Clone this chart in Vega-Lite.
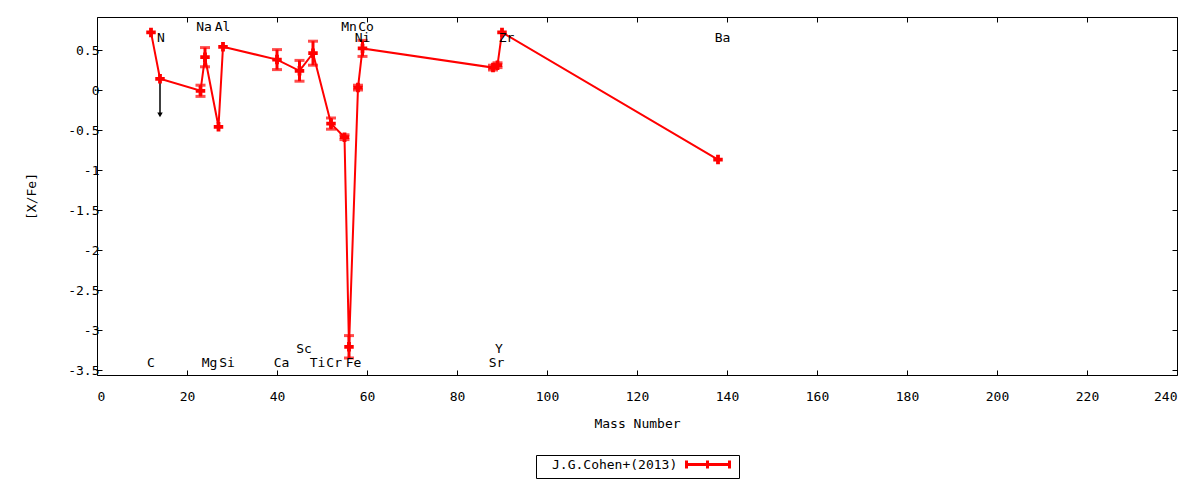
{
  "$schema": "https://vega.github.io/schema/vega-lite/v6.json",
  "width": 1080,
  "height": 358,
  "autosize": {"type": "none"},
  "padding": {"left": 97, "top": 17, "right": 23, "bottom": 105},
  "background": "white",
  "config": {
    "font": "DejaVu Sans Mono",
    "view": {"stroke": "black", "strokeWidth": 1},
    "axis": {
      "domain": false,
      "grid": false,
      "tickColor": "black",
      "tickSize": -5,
      "labelColor": "black",
      "labelFont": "DejaVu Sans Mono",
      "labelFontSize": 13,
      "titleFont": "DejaVu Sans Mono",
      "titleFontSize": 13,
      "titleFontWeight": "normal",
      "titleColor": "black"
    }
  },
  "datasets": {
    "abund": [
      {"element": "C", "A": 12, "xfe": 0.72, "err": 0, "ref": "J.G.Cohen+(2013)"},
      {"element": "N", "A": 14, "xfe": 0.14, "err": 0, "limit": -0.31, "ref": "J.G.Cohen+(2013)"},
      {"element": "Na", "A": 23, "xfe": -0.01, "err": 0.07, "ref": "J.G.Cohen+(2013)"},
      {"element": "Mg", "A": 24, "xfe": 0.41, "err": 0.12, "ref": "J.G.Cohen+(2013)"},
      {"element": "Al", "A": 27, "xfe": -0.46, "err": 0, "ref": "J.G.Cohen+(2013)"},
      {"element": "Si", "A": 28, "xfe": 0.54, "err": 0, "ref": "J.G.Cohen+(2013)"},
      {"element": "Ca", "A": 40, "xfe": 0.38, "err": 0.125, "ref": "J.G.Cohen+(2013)"},
      {"element": "Sc", "A": 45, "xfe": 0.24, "err": 0.13, "ref": "J.G.Cohen+(2013)"},
      {"element": "Ti", "A": 48, "xfe": 0.46, "err": 0.15, "ref": "J.G.Cohen+(2013)"},
      {"element": "Cr", "A": 52, "xfe": -0.42, "err": 0.07, "ref": "J.G.Cohen+(2013)"},
      {"element": "Mn", "A": 55, "xfe": -0.59, "err": 0.03, "ref": "J.G.Cohen+(2013)"},
      {"element": "Fe", "A": 56, "xfe": -3.21, "err": 0.14, "ref": "J.G.Cohen+(2013)"},
      {"element": "Ni", "A": 58, "xfe": 0.03, "err": 0.03, "ref": "J.G.Cohen+(2013)"},
      {"element": "Co", "A": 59, "xfe": 0.52, "err": 0.1, "ref": "J.G.Cohen+(2013)"},
      {"element": "Sr", "A": 88, "xfe": 0.28, "err": 0.03, "ref": "J.G.Cohen+(2013)"},
      {"element": "Y", "A": 89, "xfe": 0.31, "err": 0.03, "ref": "J.G.Cohen+(2013)"},
      {"element": "Zr", "A": 90, "xfe": 0.72, "err": 0, "ref": "J.G.Cohen+(2013)"},
      {"element": "Ba", "A": 138, "xfe": -0.87, "err": 0, "ref": "J.G.Cohen+(2013)"}
    ],
    "labels": [
      {"el": "C", "lx": 12.0, "ly": -3.41},
      {"el": "N", "lx": 14.2, "ly": 0.65},
      {"el": "Na", "lx": 23.8, "ly": 0.79},
      {"el": "Mg", "lx": 25.0, "ly": -3.41},
      {"el": "Al", "lx": 27.9, "ly": 0.79},
      {"el": "Si", "lx": 28.9, "ly": -3.41},
      {"el": "Ca", "lx": 41.0, "ly": -3.41},
      {"el": "Sc", "lx": 46.0, "ly": -3.24},
      {"el": "Ti", "lx": 49.0, "ly": -3.41},
      {"el": "Cr", "lx": 52.7, "ly": -3.41},
      {"el": "Mn", "lx": 56.0, "ly": 0.79},
      {"el": "Fe", "lx": 57.0, "ly": -3.41},
      {"el": "Co", "lx": 59.8, "ly": 0.79},
      {"el": "Ni", "lx": 59.0, "ly": 0.65},
      {"el": "Sr", "lx": 88.8, "ly": -3.41},
      {"el": "Y", "lx": 89.3, "ly": -3.24},
      {"el": "Zr", "lx": 91.0, "ly": 0.65},
      {"el": "Ba", "lx": 139.0, "ly": 0.65}
    ]
  },
  "layer": [
    {
      "layer": [
        {
          "data": {"name": "abund"},
          "transform": [{"filter": "isValid(datum.limit)"}],
          "mark": {"type": "rule", "color": "black", "strokeWidth": 1.5},
          "encoding": {
            "x": {"field": "A", "type": "quantitative", "title": "Mass Number"},
            "y": {"field": "xfe", "type": "quantitative", "title": "[X/Fe]"},
            "y2": {"field": "limit"}
          }
        },
        {
          "data": {"name": "abund"},
          "transform": [{"filter": "isValid(datum.limit)"}],
          "mark": {"type": "point", "shape": "triangle-down", "filled": true, "color": "black", "size": 30, "opacity": 1},
          "encoding": {
            "x": {"field": "A", "type": "quantitative", "title": "Mass Number"},
            "y": {"field": "limit", "type": "quantitative", "title": "[X/Fe]"}
          }
        },
        {
          "data": {"name": "abund"},
          "mark": {"type": "line", "strokeWidth": 2},
          "encoding": {
            "x": {
              "field": "A",
              "type": "quantitative",
              "title": "Mass Number",
              "scale": {"domain": [0, 240], "nice": false},
              "axis": {
                "orient": "bottom",
                "values": [0, 20, 40, 60, 80, 100, 120, 140, 160, 180, 200, 220, 240],
                "labelPadding": 20,
                "titlePadding": 14
              }
            },
            "y": {
              "field": "xfe",
              "type": "quantitative",
              "title": "[X/Fe]",
              "scale": {"domain": [-3.5625, 0.9125], "nice": false, "zero": false},
              "axis": {
                "orient": "left",
                "values": [-3.5, -3, -2.5, -2, -1.5, -1, -0.5, 0, 0.5],
                "labelExpr": "'' + datum.value",
                "labelPadding": 3,
                "titlePadding": 29
              }
            },
            "color": {
              "field": "ref",
              "type": "nominal",
              "scale": {"range": ["#ff0000"]},
              "legend": {
                "orient": "none",
                "legendX": 439,
                "legendY": 438,
                "title": null,
                "symbolType": "M141,0H184M141,-4V4M184,-4V4M162,-4V4",
                "symbolSize": 4,
                "symbolStrokeWidth": 3,
                "symbolStrokeColor": "#ff0000",
                "symbolFillColor": "transparent",
                "labelOffset": 0,
                "padding": 3,
                "strokeColor": "black",
                "labelFont": "DejaVu Sans Mono",
                "labelFontSize": 13,
                "labelColor": "black",
                "labelLimit": 300
              }
            }
          }
        },
        {
          "data": {"name": "abund"},
          "transform": [{"filter": "datum.err > 0"}],
          "mark": {"type": "errorbar", "color": "#ff0000", "thickness": 3, "ticks": {"size": 10, "thickness": 3}},
          "encoding": {
            "x": {"field": "A", "type": "quantitative", "title": "Mass Number"},
            "y": {"field": "xfe", "type": "quantitative", "title": "[X/Fe]"},
            "yError": {"field": "err"}
          }
        },
        {
          "data": {"name": "abund"},
          "mark": {"type": "point", "shape": "cross", "filled": true, "color": "#ff0000", "size": 90, "opacity": 1},
          "encoding": {
            "x": {"field": "A", "type": "quantitative", "title": "Mass Number"},
            "y": {"field": "xfe", "type": "quantitative", "title": "[X/Fe]"}
          }
        },
        {
          "data": {"name": "labels"},
          "mark": {"type": "text", "font": "DejaVu Sans Mono", "fontSize": 13, "color": "black", "baseline": "middle", "align": "center"},
          "encoding": {
            "x": {"field": "lx", "type": "quantitative", "title": "Mass Number"},
            "y": {"field": "ly", "type": "quantitative", "title": "[X/Fe]"},
            "text": {"field": "el"}
          }
        }
      ]
    },
    {
      "data": {"name": "abund"},
      "mark": {"type": "point", "opacity": 0},
      "encoding": {
        "x": {
          "field": "A",
          "type": "quantitative",
          "scale": {"domain": [0, 240], "nice": false},
          "axis": {"orient": "top", "labels": false, "title": null, "values": [0, 20, 40, 60, 80, 100, 120, 140, 160, 180, 200, 220, 240]}
        },
        "y": {
          "field": "xfe",
          "type": "quantitative",
          "scale": {"domain": [-3.5625, 0.9125], "nice": false, "zero": false},
          "axis": {"orient": "right", "labels": false, "title": null, "values": [-3.5, -3, -2.5, -2, -1.5, -1, -0.5, 0, 0.5]}
        }
      }
    }
  ],
  "resolve": {"scale": {"x": "independent", "y": "independent"}}
}
